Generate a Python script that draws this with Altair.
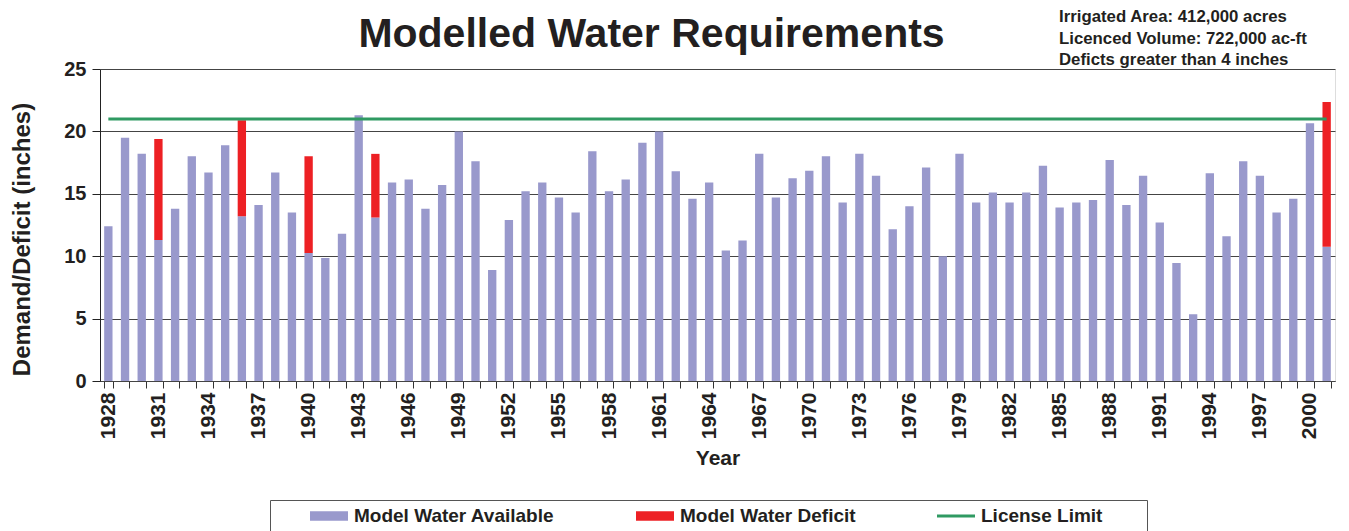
import altair as alt
import pandas as pd

years = list(range(1928, 2002))

available = [
    12.4, 19.5, 18.2, 11.3, 13.8, 18.0, 16.7, 18.9, 13.2, 14.1,
    16.7, 13.5, 10.25, 9.85, 11.8, 21.3, 13.1, 15.9, 16.15, 13.8,
    15.7, 20.0, 17.6, 8.9, 12.9, 15.2, 15.9, 14.7, 13.5, 18.4,
    15.2, 16.15, 19.1, 20.0, 16.8, 14.6, 15.9, 10.45, 11.25, 18.2,
    14.7, 16.25, 16.85, 18.0, 14.3, 18.2, 16.45, 12.15, 14.0, 17.1,
    10.0, 18.2, 14.3, 15.1, 14.3, 15.1, 17.25, 13.9, 14.3, 14.5,
    17.7, 14.1, 16.45, 12.7, 9.45, 5.35, 16.65, 11.6, 17.6, 16.45,
    13.5, 14.6, 20.65, 10.75,
]

deficit_years = [1931, 1936, 1940, 1944, 2001]
deficit_values = [8.1, 7.7, 7.75, 5.1, 11.6]

license_limit = 21.0

series_names = ["Model Water Available", "Model Water Deficit", "License Limit"]
series_colors = ["#9999CC", "#ED2024", "#2F9A62"]

notes = [
    "Irrigated Area: 412,000 acres",
    "Licenced Volume: 722,000 ac-ft",
    "Deficts greater than 4 inches",
]

FONT = "Liberation Sans"

deficit_map = dict(zip(deficit_years, deficit_values))
rows = []
for y, a in zip(years, available):
    rows.append({"year": y, "series": series_names[0], "value": a, "ord": 0})
    d = deficit_map.get(y, 0.0)
    if d > 0:
        rows.append({"year": y, "series": series_names[1], "value": d, "ord": 1})
bars_df = pd.DataFrame(rows)

limit_df = pd.DataFrame({"year": years, "limit": [license_limit] * len(years),
                         "series": [series_names[2]] * len(years)})

x_scale = alt.Scale(paddingInner=0.5, paddingOuter=0.25)
y_scale = alt.Scale(domain=[0, 25], nice=False)

color_scale = alt.Scale(domain=series_names, range=series_colors)

legend = alt.Legend(
    title="\u00a0",
    titleOrient="right",
    titlePadding=39,
    titleFontSize=19,
    orient="none",
    legendX=170,
    legendY=431,
    direction="horizontal",
    columns=3,
    symbolType={"expr": "datum.value === 'License Limit' ? 'M-1,-0.08H1V0.08H-1Z' : 'M-1,-0.25H1V0.25H-1Z'"},
    symbolSize=1444,
    symbolStrokeWidth=0,
    symbolOffset=34,
    labelOffset=6,
    columnPadding=47,
    clipHeight=20,
    labelFontSize=19,
    labelFont=FONT,
    labelFontWeight="bold",
    labelColor="#231F20",
    labelLimit=400,
    padding=6,
    strokeColor="#555555",
    fillColor="white",
)

x_enc = alt.X(
    "year:O",
    scale=x_scale,
    axis=alt.Axis(
        title="Year",
        titleFontSize=21,
        titleFont=FONT,
        titleFontWeight="bold",
        titleColor="#231F20",
        titleY=77,
        titleBaseline="middle",
        labelExpr="(+datum.value - 1928) % 3 === 0 ? datum.value : ''",
        labelAngle=-90,
        labelFontSize=21,
        labelFont=FONT,
        labelFontWeight="bold",
        labelColor="#231F20",
        labelPadding=4,
        tickBand="extent",
        tickSize=7,
        tickColor="#333333",
        domainColor="#444444",
        grid=False,
        labelOverlap=False,
    ),
)

bars = alt.Chart(bars_df).mark_bar().encode(
    x=x_enc,
    y=alt.Y(
        "value:Q",
        stack="zero",
        scale=y_scale,
        axis=alt.Axis(
            title="Demand/Deficit (inches)",
            values=[0, 5, 10, 15, 20, 25],
            titleFontSize=24,
            titleFont=FONT,
            titleFontWeight="bold",
            titleColor="#231F20",
            titleAngle=-90,
            titleX=-78,
            titleY=170,
            titleAlign="center",
            titleBaseline="middle",
            labelFontSize=20,
            labelFont=FONT,
            labelFontWeight="bold",
            labelColor="#231F20",
            labelPadding=6,
            tickSize=8,
            tickColor="#222222",
            domainColor="#222222",
            gridColor="#444444",
            gridWidth=1,
        ),
    ),
    color=alt.Color("series:N", scale=color_scale, legend=legend),
    order=alt.Order("ord:Q", sort="ascending"),
)

line = alt.Chart(limit_df).mark_line(strokeWidth=3).encode(
    x=alt.X("year:O", scale=x_scale),
    y=alt.Y("limit:Q", scale=y_scale),
    color=alt.Color("series:N", scale=color_scale, legend=legend),
)

notes_layer = alt.Chart(pd.DataFrame({"k": [0]})).mark_text(
    align="left",
    baseline="alphabetic",
    fontSize=16.8,
    font=FONT,
    fontWeight="bold",
    color="#231F20",
    lineHeight=21.5,
).encode(
    x=alt.value(959),
    y=alt.value(-47),
    text=alt.value(notes),
)

chart = alt.layer(bars, line, notes_layer).properties(
    width=1235,
    height=312,
    title=alt.TitleParams(
        "Modelled Water Requirements",
        fontSize=41,
        font=FONT,
        fontWeight="bold",
        color="#231F20",
        anchor="middle",
        dx=-66,
        dy=61,
        offset=14,
    ),
    autosize=alt.AutoSizeParams(type="none"),
    padding={"left": 92, "top": 61, "right": 6, "bottom": 150},
).configure_view(
    stroke="#999999",
    strokeWidth=1,
).configure(
    font=FONT,
    background="white",
)

chart.save("out.html", embed_options={"renderer": "svg", "actions": False})
